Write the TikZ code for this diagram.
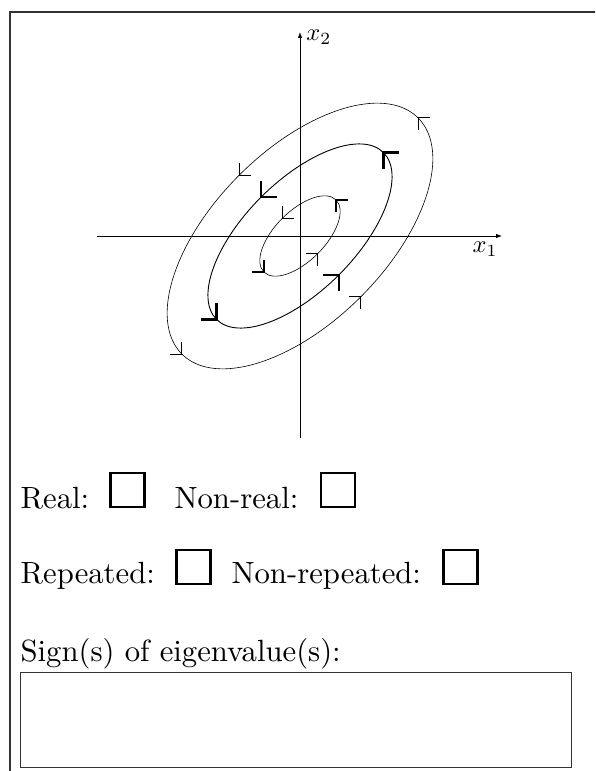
\documentclass[tikz,border=0pt]{standalone}
\usetikzlibrary{arrows.meta}
\begin{document}
\begin{tikzpicture}[x=1pt,y=1pt,
  txt/.style={anchor=base west, inner sep=0pt, font=\fontsize{10}{12}\selectfont, scale=3.07, transform shape},
  axlbl/.style={inner sep=0pt, font=\fontsize{10}{12}\selectfont, scale=2.45, transform shape},
  cbox/.style={draw, line width=2.4pt, minimum width=34pt, minimum height=34pt, inner sep=0pt},
  axis/.style={line width=0.8pt, -{Latex[length=6pt,width=4.5pt]}},
  orbit/.style={line width=0.6pt},
  barb/.pic={\draw[line join=miter, line cap=butt] (-#1,0) -- (0,0) -- (0,-#1);},
  frame/.style={line width=1.3pt, draw=black!80}]
\clip (-300,236) rectangle (295,-535);
\draw[frame] (-290,-560) -- (-290,224) -- (320,224);
\coordinate (o) at (0,0);
\coordinate (xl) at (-203,0); \coordinate (xr) at (202,0);
\coordinate (yb) at (0,-202); \coordinate (yt) at (0,204);
\draw[axis] (xl) -- (xr);
\draw[axis] (yb) -- (yt);
\node[axlbl, anchor=west] (x2) at (6,199) {$x_2$};
\node[axlbl] (x1) at (185,-13) {$x_1$};
% orbits
\draw[orbit, rotate=45] (o) ellipse [x radius=167, y radius=86];
\draw[orbit, line width=0.9pt, rotate=45] (o) ellipse [x radius=118, y radius=55];
\draw[orbit, rotate=45] (o) ellipse [x radius=51, y radius=25];
% outer heads
\pic[line width=1pt, rotate=90] at (118.1,118.1) {barb=12};
\pic[line width=1pt, rotate=180] at (-60.8,60.8) {barb=12};
\pic[line width=1pt, rotate=270] at (-118.1,-118.1) {barb=12};
\pic[line width=1pt] at (60.8,-60.8) {barb=12};
% middle heads
\pic[line width=2.6pt, rotate=90] at (83.4,83.4) {barb=16};
\pic[line width=2.6pt, rotate=180] at (-38.9,38.9) {barb=16};
\pic[line width=2.6pt, rotate=270] at (-83.4,-83.4) {barb=16};
\pic[line width=2.6pt] at (38.9,-38.9) {barb=16};
% inner heads
\pic[line width=1.5pt, rotate=90] at (36.1,36.1) {barb=12};
\pic[line width=1.5pt, rotate=180] at (-17.7,17.7) {barb=12};
\pic[line width=1.5pt, rotate=270] at (-36.1,-36.1) {barb=12};
\pic[line width=1.5pt] at (17.7,-17.7) {barb=12};
% questions
\node[txt] (real) at (-280,-272) {Real:};
\node[cbox] (breal) at (-172.5,-254) {};
\node[txt] (nonreal) at (-126,-272) {Non-real:};
\node[cbox] (bnonreal) at (38,-254) {};
\node[txt] (rep) at (-280,-347) {Repeated:};
\node[cbox] (brep) at (-106.5,-331) {};
\node[txt] (nonrep) at (-69,-347) {Non-repeated:};
\node[cbox] (bnonrep) at (160.5,-331) {};
\node[txt] (sign) at (-280,-425) {Sign(s) of eigenvalue(s):};
\node[draw=black!80, line width=1pt, minimum width=551pt, minimum height=95pt, inner sep=0pt, anchor=north west] (ans) at (-280,-436) {};
\end{tikzpicture}
\end{document}
